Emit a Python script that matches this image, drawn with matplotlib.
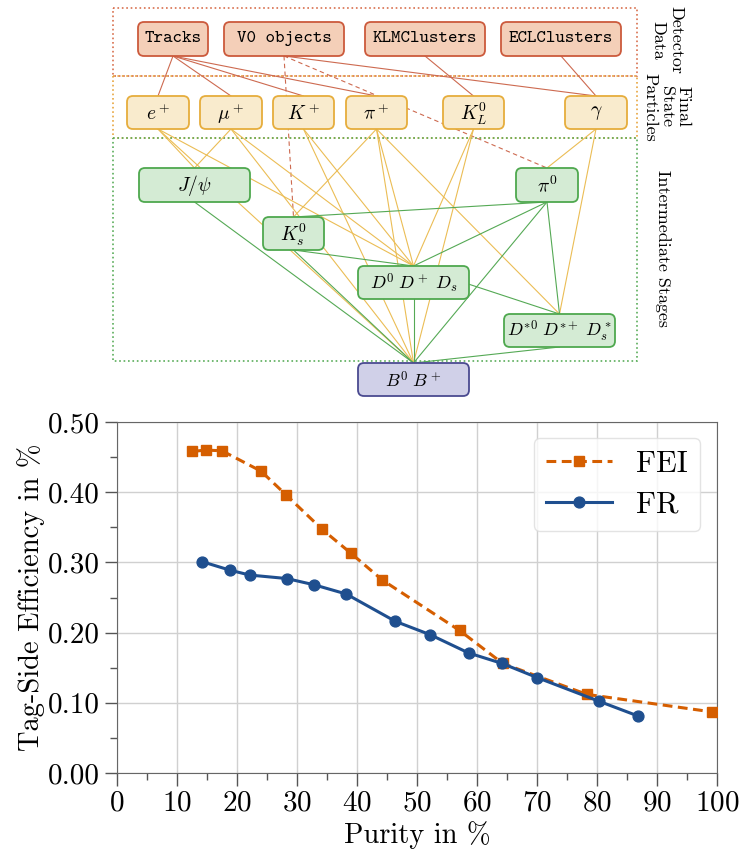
import numpy as np
import matplotlib.pyplot as plt
from matplotlib.patches import FancyBboxPatch, Rectangle
from matplotlib.ticker import MultipleLocator, FormatStrFormatter

plt.rcParams['font.family'] = 'serif'
plt.rcParams['font.serif'] = ['cmr10']
plt.rcParams['mathtext.fontset'] = 'cm'
plt.rcParams['axes.formatter.use_mathtext'] = True

# efficiency vs purity
fei_purity = [12.5, 14.8, 17.5, 24.0, 28.2, 34.2, 39.0, 44.2, 57.1, 64.3, 78.3, 99.2]
fei_eff = [0.458, 0.460, 0.459, 0.430, 0.396, 0.347, 0.313, 0.275, 0.203, 0.156, 0.112, 0.087]
fr_purity = [14.2, 18.8, 22.1, 28.3, 32.9, 38.2, 46.4, 52.2, 58.6, 64.2, 70.0, 80.4, 86.9]
fr_eff = [0.301, 0.289, 0.282, 0.277, 0.268, 0.255, 0.216, 0.197, 0.171, 0.156, 0.136, 0.102, 0.081]

# diagram nodes
node_keys = ['trk', 'v0', 'klm', 'ecl',
             'e', 'mu', 'K', 'pi', 'KL', 'g',
             'jpsi', 'pi0', 'Ks', 'D', 'Dst', 'B']
node_labels = ['Tracks', 'V0 objects', 'KLMClusters', 'ECLClusters',
               r'$e^+$', r'$\mu^+$', r'$K^+$', r'$\pi^+$', r'$K_L^0$', r'$\gamma$',
               r'$J/\psi$', r'$\pi^0$', r'$K_s^0$', r'$D^0\;D^+\;D_s$',
               r'$D^{*0}\;D^{*+}\;D_s^*$', r'$B^0\;B^+$']
node_group = ['det'] * 4 + ['fsp'] * 6 + ['int'] * 5 + ['b']

# edges: (from, anchor, to, anchor, group, dashed)
edges = [
    ('trk', 'b', 'e', 't', 'det', False), ('trk', 'b', 'mu', 't', 'det', False),
    ('trk', 'b', 'K', 't', 'det', False), ('trk', 'b', 'pi', 't', 'det', False),
    ('v0', 'b', 'g', 't', 'det', False), ('v0', 'b', 'Ks', 't', 'det', True),
    ('v0', 'b', 'pi0', 't', 'det', True), ('klm', 'b', 'KL', 't', 'det', False),
    ('ecl', 'b', 'g', 't', 'det', False),
    ('e', 'b', 'jpsi', 't', 'fsp', False), ('e', 'b', 'D', 't', 'fsp', False),
    ('e', 'b', 'B', 't', 'fsp', False), ('mu', 'b', 'jpsi', 't', 'fsp', False),
    ('mu', 'b', 'D', 't', 'fsp', False), ('mu', 'b', 'B', 't', 'fsp', False),
    ('K', 'b', 'D', 't', 'fsp', False), ('K', 'b', 'B', 't', 'fsp', False),
    ('pi', 'b', 'Ks', 't', 'fsp', False), ('pi', 'b', 'D', 't', 'fsp', False),
    ('pi', 'b', 'Dst', 't', 'fsp', False), ('pi', 'b', 'B', 't', 'fsp', False),
    ('KL', 'b', 'D', 't', 'fsp', False), ('KL', 'b', 'B', 't', 'fsp', False),
    ('g', 'b', 'pi0', 't', 'fsp', False), ('g', 'b', 'Dst', 't', 'fsp', False),
    ('jpsi', 'b', 'B', 't', 'int', False), ('Ks', 't', 'pi0', 'b', 'int', False),
    ('Ks', 'b', 'D', 't', 'int', False), ('Ks', 'b', 'B', 't', 'int', False),
    ('pi0', 'b', 'D', 't', 'int', False), ('pi0', 'b', 'Dst', 't', 'int', False),
    ('pi0', 'b', 'B', 't', 'int', False), ('D', 't', 'Dst', 't', 'int', False),
    ('D', 'b', 'B', 't', 'int', False), ('Dst', 'b', 'B', 't', 'int', False),
]

# layout of the diagram boxes in pixel units (x0, x1, y0, y1)
box_pos = {
    'trk': (138, 208, 22, 56), 'v0': (224, 344, 22, 56),
    'klm': (365, 485, 22, 56), 'ecl': (501, 621, 22, 56),
    'e': (127, 189, 96, 129), 'mu': (200, 262, 96, 129), 'K': (273, 334, 96, 129),
    'pi': (346, 407, 96, 129), 'KL': (443, 504, 96, 129), 'g': (565, 627, 96, 129),
    'jpsi': (139, 250, 168, 202), 'pi0': (516, 578, 168, 202),
    'Ks': (263, 324, 217, 250), 'D': (358, 469, 266, 299),
    'Dst': (504, 615, 314, 347), 'B': (358, 469, 363, 396),
}
face = {'det': '#f4cfb8', 'fsp': '#f9ebcd', 'int': '#d4ebd4', 'b': '#d0d0e8'}
edge_col = {'det': '#cc5a3c', 'fsp': '#e6ad3c', 'int': '#4ea84e', 'b': '#4a4a90'}
line_col = {'det': '#cd6a50', 'fsp': '#ebbd55', 'int': '#55a955'}

fig = plt.figure(figsize=(7.4, 8.5), dpi=100)

# ---- diagram ----
axd = fig.add_axes([0, 1 - 400 / 850, 1, 400 / 850])
axd.set_xlim(0, 740)
axd.set_ylim(400, 0)
axd.axis('off')

axd.add_patch(Rectangle((113, 8), 524, 68, fill=False, ls=':', lw=1.2, ec='#d8704e'))
axd.add_patch(Rectangle((113, 76), 524, 62, fill=False, ls=':', lw=1.2, ec='#e8a640'))
axd.add_patch(Rectangle((113, 138), 524, 223, fill=False, ls=':', lw=1.2, ec='#5aad5a'))

def anchor(key, side):
    x0, x1, y0, y1 = box_pos[key]
    return (x0 + x1) / 2, (y1 if side == 'b' else y0)

for a, sa, b, sb, grp, dashed in edges:
    xa, ya = anchor(a, sa)
    xb, yb = anchor(b, sb)
    axd.plot([xa, xb], [ya, yb], color=line_col[grp], lw=0.8,
             ls=(0, (4, 3)) if dashed else '-', zorder=1)

for key, lab, grp in zip(node_keys, node_labels, node_group):
    x0, x1, y0, y1 = box_pos[key]
    axd.add_patch(FancyBboxPatch((x0, y0), x1 - x0, y1 - y0,
                                 boxstyle='round,pad=0,rounding_size=6',
                                 fc=face[grp], ec=edge_col[grp], lw=1.3, zorder=3))
    if grp == 'det':
        axd.text((x0 + x1) / 2, (y0 + y1) / 2, lab, family='cmtt10', fontsize=13,
                 ha='center', va='center', zorder=4)
    else:
        fs = 13 if key in ('D', 'Dst', 'B') else 14
        axd.text((x0 + x1) / 2, (y0 + y1) / 2 + 1, lab, fontsize=fs,
                 ha='center', va='center', zorder=4)

axd.text(667, 40, 'Detector\nData', rotation=-90, fontsize=13, ha='center',
         va='center', multialignment='center', linespacing=1.25)
axd.text(667, 107, 'Final\nState\nParticles', rotation=-90, fontsize=13, ha='center',
         va='center', multialignment='center', linespacing=1.1)
axd.text(663, 248, 'Intermediate Stages', rotation=-90, fontsize=13, ha='center',
         va='center')

# ---- efficiency plot ----
ax = fig.add_axes([117 / 740, 1 - 773 / 850, 600 / 740, 351 / 850])
ax.plot(fei_purity, fei_eff, color='#d55e00', ls=(0, (3.2, 1.8)), lw=2.2,
        marker='s', ms=7.8, label='FEI', zorder=3)
ax.plot(fr_purity, fr_eff, color='#1f4f8f', ls='-', lw=2.2,
        marker='o', ms=7.8, label='FR', zorder=4)

ax.set_xlim(0, 100)
ax.set_ylim(0, 0.5)
ax.xaxis.set_major_locator(MultipleLocator(10))
ax.xaxis.set_minor_locator(MultipleLocator(5))
ax.yaxis.set_major_locator(MultipleLocator(0.1))
ax.yaxis.set_minor_locator(MultipleLocator(0.05))
ax.yaxis.set_major_formatter(FormatStrFormatter('%.2f'))
ax.tick_params(which='major', direction='out', length=9, width=1, colors='#555555',
               labelsize=21, labelcolor='black')
ax.tick_params(which='minor', direction='out', length=5, width=1, colors='#555555')
ax.grid(True, which='major', color='#d0d0d0', lw=1)
for s in ax.spines.values():
    s.set_color('#666666')
ax.set_xlabel('Purity in %', fontsize=20.5, labelpad=3)
ax.set_ylabel('Tag-Side Efficiency in %', fontsize=20.5, labelpad=2)
ax.legend(loc='upper right', fontsize=22, handlelength=2.15, borderpad=0.4,
          labelspacing=0.45, handletextpad=0.8, borderaxespad=0, fancybox=True,
          framealpha=0.8, edgecolor='#dddddd', bbox_to_anchor=(0.972, 0.954))

fig.savefig('out.png', dpi=100)
